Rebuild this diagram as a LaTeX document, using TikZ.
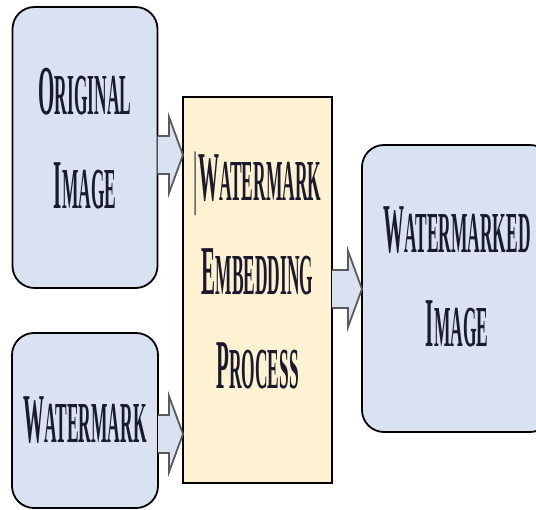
\documentclass[tikz,border=0pt]{standalone}
\usepackage{graphicx}
\usepackage{fontspec}
\setmainfont{Liberation Serif}
\usetikzlibrary{calc}

\definecolor{boxblue}{HTML}{DAE2F1}
\definecolor{boxyellow}{HTML}{FEF2D2}
\definecolor{edgegray}{HTML}{5A5A5A}
\definecolor{inkblue}{HTML}{1A1A2E}

% narrow small caps, as in the original figure
\newcommand{\sctext}[2]{\scalebox{0.30}[1]{#1{\fontsize{58}{58}\selectfont #2}}}

% hollow block arrow between two nodes, at height #3
\newcommand{\blockarrow}[3]{%
  \filldraw[fill=boxblue, draw=edgegray, line width=1.8pt, line join=miter]
    ($(#1.east |- 0,#3)+(0,-19)$) -- ($(#2.west |- 0,#3)+(-14,-19)$)
    -- ($(#2.west |- 0,#3)+(-14,-38)$) -- (#2.west |- 0,#3)
    -- ($(#2.west |- 0,#3)+(-14,38)$) -- ($(#2.west |- 0,#3)+(-14,19)$)
    -- ($(#1.east |- 0,#3)+(0,19)$);}

\tikzset{
  imgbox/.style={draw=black, line width=1.8pt, fill=boxblue, rounded corners=22pt,
    align=center, inner sep=0pt, outer sep=0pt, text=inkblue,
    font=\fontsize{70}{94}\selectfont\bfseries},
  procbox/.style={draw=black, line width=1.8pt, fill=boxyellow,
    align=center, inner sep=0pt, outer sep=0pt, text=inkblue,
    font=\fontsize{70}{94}\selectfont\bfseries}
}

\begin{document}
\begin{tikzpicture}[x=1pt, y=-1pt]
  \useasboundingbox[fill=white] (0,0) rectangle (536,510);

  \node[imgbox, minimum width=145pt, minimum height=281pt, text depth=18pt] (orig) at (85,147.5)
    {\sctext{O}{RIGINAL}\\\sctext{I}{MAGE}};
  \node[imgbox, minimum width=146pt, minimum height=175pt] (mark) at (85,420.5)
    {\sctext{W}{ATERMARK}};
  \node[procbox, minimum width=149pt, minimum height=386pt, text depth=40pt] (embed) at (257.5,290)
    {\sctext{{\mdseries|}W}{ATERMARK}\\\sctext{E}{MBEDDING}\\\sctext{P}{ROCESS}};
  \node[imgbox, minimum width=190pt, minimum height=287pt, text depth=24pt] (result) at (457,288.5)
    {\sctext{W}{ATERMARKED}\\\sctext{I}{MAGE}};

  \blockarrow{orig}{embed}{155}
  \blockarrow{mark}{embed}{434}
  \blockarrow{embed}{result}{289}
\end{tikzpicture}
\end{document}
